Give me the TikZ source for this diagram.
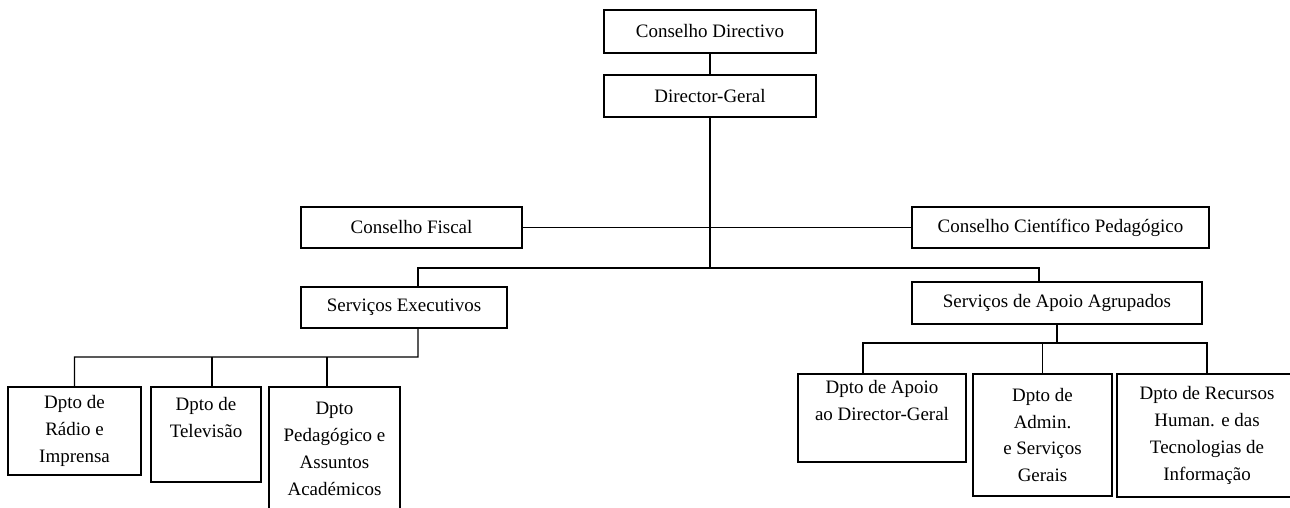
\documentclass[tikz,border=0pt]{standalone}
\usepackage{fontspec}
\setmainfont{Liberation Serif}
\usetikzlibrary{positioning,calc}
\newcommand{\orgfont}{\fontsize{10.8}{15.3}\selectfont}
\tikzset{
  unit/.style ={draw=black, thick, inner sep=0pt, align=center, font=\orgfont},
  link/.style ={draw=black, thick},
}

\begin{document}
\begin{tikzpicture}[x=0.02cm, y=-0.02cm]
    \useasboundingbox (0,0) rectangle (1290,507);
    \clip (0,0) rectangle (1290,507);
    % top of the chart
    \node[unit, minimum width=4.24cm, minimum height=0.86cm] (CD)  at (710,31.5)    {Conselho Directivo};
    \node[unit, minimum width=4.24cm, minimum height=0.84cm] (DG)  at (710,96)      {Director-Geral};
    % councils
    \node[unit, minimum width=4.42cm, minimum height=0.82cm] (CF)  at (411.5,227.5) {Conselho Fiscal};
    \node[unit, minimum width=5.94cm, minimum height=0.82cm] (CCP) at (1060.5,227.5){Conselho Científico Pedagógico};
    % services
    \node[unit, minimum width=4.12cm, minimum height=0.82cm] (SE)  at (404,307.5)   {Serviços Executivos};
    \node[unit, minimum width=5.80cm, minimum height=0.84cm] (SAA) at (1057,303)    {Serviços de Apoio Agrupados};
    % departments, left
    \node[unit, minimum width=2.66cm, minimum height=1.76cm] (radio) at (74.5,431)  {Dpto de\\Rádio e\\Imprensa};
    \node[unit, minimum width=2.20cm, minimum height=1.90cm] (tv)    at (206,434.5) {Dpto de\\Televisão\\\strut};
    \node[unit, minimum width=2.62cm, minimum height=2.48cm] (ped)   at (334.5,449) {Dpto\\Pedagógico e\\Assuntos\\Académicos};
    % departments, right
    \node[unit, minimum width=3.36cm, minimum height=1.76cm] (apoio)    at (882,418)     {Dpto de Apoio\\ao Director-Geral\\\strut};
    \node[unit, minimum width=2.78cm, minimum height=2.44cm] (admin)    at (1042.5,435)  {Dpto de\\Admin.\\e Serviços\\Gerais};
    \node[unit, minimum width=3.60cm, minimum height=2.46cm] (recursos) at (1207,435.5)  {Dpto de Recursos\\Human. e das\\Tecnologias de\\Informação};
    % junctions
    \coordinate (hub)  at (710,268);
    \coordinate (lbus) at (418,357);
    \coordinate (rbus) at (1057,343);
    % lines
    \draw[link] (CD) -- (DG);
    \draw[link] (DG) -- (hub);
    \draw[link] (CF) -- (CCP);
    \draw[link] ([xshift=0.28cm]SE.north) |- (hub) -| ([xshift=-0.36cm]SAA.north);
    \draw[link] ([xshift=0.28cm]SE.south) -- (lbus) -| (radio.north);
    \draw[link] ([xshift=0.12cm]tv.north) -- ([xshift=0.12cm]tv.north |- lbus);
    \draw[link] ([xshift=-0.15cm]ped.north) -- ([xshift=-0.15cm]ped.north |- lbus);
    \draw[link] (SAA.south) -- (rbus);
    \draw[link] ([xshift=-0.38cm]apoio.north) |- (recursos.north |- rbus) -- (recursos.north);
    \draw[link] (admin.north) -- (admin.north |- rbus);
  \end{tikzpicture}
\end{document}
